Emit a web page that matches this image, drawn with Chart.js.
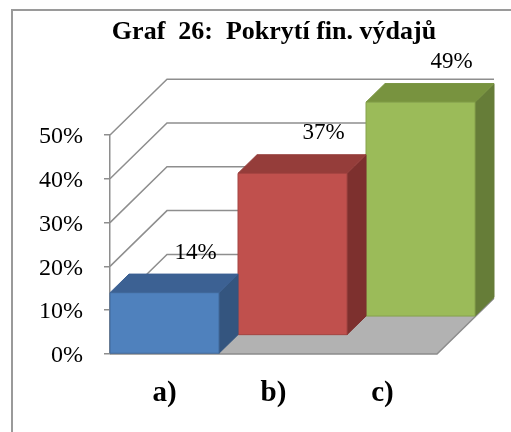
<!DOCTYPE html>
<html><head><meta charset="utf-8">
<script src="https://cdn.jsdelivr.net/npm/chart.js@4/dist/chart.umd.min.js"></script>
<style>html,body{margin:0;padding:0;background:#fff}#wrap{position:relative;width:511px;height:432px}</style>
</head><body><div id="wrap"><canvas id="c" width="511" height="432"></canvas></div>
<script>
const titleText = 'Graf  26:  Pokrytí fin. výdajů';
const categories = ['a)', 'b)', 'c)'];
const values = [14, 37, 49];
const valueLabels = ['14%', '37%', '49%'];
const tickValues = [0, 10, 20, 30, 40, 50];
const tickLabels = ['0%', '10%', '20%', '30%', '40%', '50%'];

const frontColors = ['#4F81BD', '#C0504D', '#9BBB59'];
const topColors = ['#3C6193', '#953D3A', '#78933F'];
const sideColors = ['#34557F', '#7D302E', '#667D38'];
const edgeColors = ['#41699A', '#A34442', '#86A24C'];

const SX = 19, SY = 18.6; // depth per slot
const SERIF = '"Liberation Serif", "Times New Roman", serif';

function poly(ctx, pts, fill, stroke) {
  ctx.beginPath();
  ctx.moveTo(pts[0][0], pts[0][1]);
  for (let i = 1; i < pts.length; i++) ctx.lineTo(pts[i][0], pts[i][1]);
  ctx.closePath();
  ctx.fillStyle = fill; ctx.fill();
  if (stroke) { ctx.strokeStyle = stroke; ctx.lineWidth = 1; ctx.stroke(); }
}

const threeD = {
  id: 'threeD',
  beforeDraw(chart) {
    const ctx = chart.ctx;
    ctx.save();
    ctx.strokeStyle = '#9a9a9a';
    ctx.lineWidth = 2;
    ctx.strokeRect(12, 10, 540, 460);
    ctx.restore();
  },
  beforeDatasetsDraw(chart) {
    const ctx = chart.ctx, a = chart.chartArea, ys = chart.scales.y;
    const n = categories.length;
    const DX = SX * n, DY = SY * n;
    ctx.save();
    // floor
    poly(ctx, [[a.left, a.bottom], [a.right, a.bottom], [a.right + DX, a.bottom - DY], [a.left + DX, a.bottom - DY]], '#B2B2B2');
    ctx.strokeStyle = '#8C8C8C'; ctx.lineWidth = 1.5;
    ctx.beginPath();
    ctx.moveTo(a.left, a.bottom); ctx.lineTo(a.right, a.bottom); ctx.lineTo(a.right + DX, a.bottom - DY);
    ctx.stroke();
    // wall grid lines
    ctx.strokeStyle = '#8E8E8E'; ctx.lineWidth = 1.5;
    tickValues.forEach(v => {
      if (v === 0) return;
      const y = ys.getPixelForValue(v);
      ctx.beginPath();
      ctx.moveTo(a.left, y);
      ctx.lineTo(a.left + DX, y - DY);
      ctx.lineTo(a.right + DX, y - DY);
      ctx.stroke();
    });
    ctx.restore();
  },
  beforeDatasetDraw() { return false; },
  afterDatasetsDraw(chart) {
    const ctx = chart.ctx;
    const meta = chart.getDatasetMeta(0);
    ctx.save();
    for (let i = meta.data.length - 1; i >= 0; i--) {
      const el = meta.data[i];
      const p = el.getProps(['x', 'y', 'base', 'width'], true);
      const sx = i * SX, sy = i * SY;
      const x0 = p.x - p.width / 2 + sx, x1 = p.x + p.width / 2 + sx;
      const yt = p.y - sy, yb = p.base - sy;
      poly(ctx, [[x1, yt], [x1 + SX, yt - SY], [x1 + SX, yb - SY], [x1, yb]], sideColors[i], sideColors[i]);
      poly(ctx, [[x0, yt], [x1, yt], [x1 + SX, yt - SY], [x0 + SX, yt - SY]], topColors[i], topColors[i]);
      poly(ctx, [[x0, yt], [x1, yt], [x1, yb], [x0, yb]], frontColors[i], edgeColors[i]);
    }
    // data labels
    ctx.fillStyle = '#000';
    ctx.font = '23px ' + SERIF;
    ctx.textAlign = 'center';
    ctx.textBaseline = 'middle';
    meta.data.forEach((el, i) => {
      const p = el.getProps(['x', 'y'], true);
      ctx.fillText(valueLabels[i], p.x + i * SX + 31, p.y - i * SY - 40);
    });
    ctx.restore();
  },
  afterDraw(chart) {
    const ctx = chart.ctx;
    ctx.save();
    ctx.fillStyle = '#000';
    ctx.font = 'bold 26px ' + SERIF;
    ctx.textAlign = 'center';
    ctx.textBaseline = 'alphabetic';
    ctx.fillText(titleText, 274, 39);
    ctx.restore();
  }
};

new Chart(document.getElementById('c'), {
  type: 'bar',
  data: {
    labels: categories,
    datasets: [{ data: values, backgroundColor: frontColors, barPercentage: 1, categoryPercentage: 1 }]
  },
  options: {
    responsive: false,
    devicePixelRatio: 1,
    animation: false,
    events: [],
    layout: { padding: { left: 0, right: 74, top: 135, bottom: 0 } },
    plugins: { legend: { display: false }, title: { display: false }, tooltip: { enabled: false } },
    scales: {
      x: {
        offset: true,
        grid: { display: false, drawTicks: false },
        border: { display: false },
        ticks: { color: '#000', padding: 22, font: { family: SERIF, size: 29, weight: 'bold' } },
        afterFit(s) { s.height = 78; }
      },
      y: {
        min: 0, max: 50,
        afterBuildTicks(s) { s.ticks = tickValues.map(v => ({ value: v })); },
        grid: { drawOnChartArea: false, drawTicks: true, tickLength: 6, color: '#8E8E8E', lineWidth: 1.5 },
        border: { display: true, color: '#8E8E8E', width: 1.5 },
        ticks: {
          color: '#000', padding: 21, labelOffset: 2,
          font: { family: SERIF, size: 24 },
          callback(v) { return tickLabels[tickValues.indexOf(v)]; }
        },
        afterFit(s) { s.width = 110; }
      }
    }
  },
  plugins: [threeD]
});
</script>
</body></html>
